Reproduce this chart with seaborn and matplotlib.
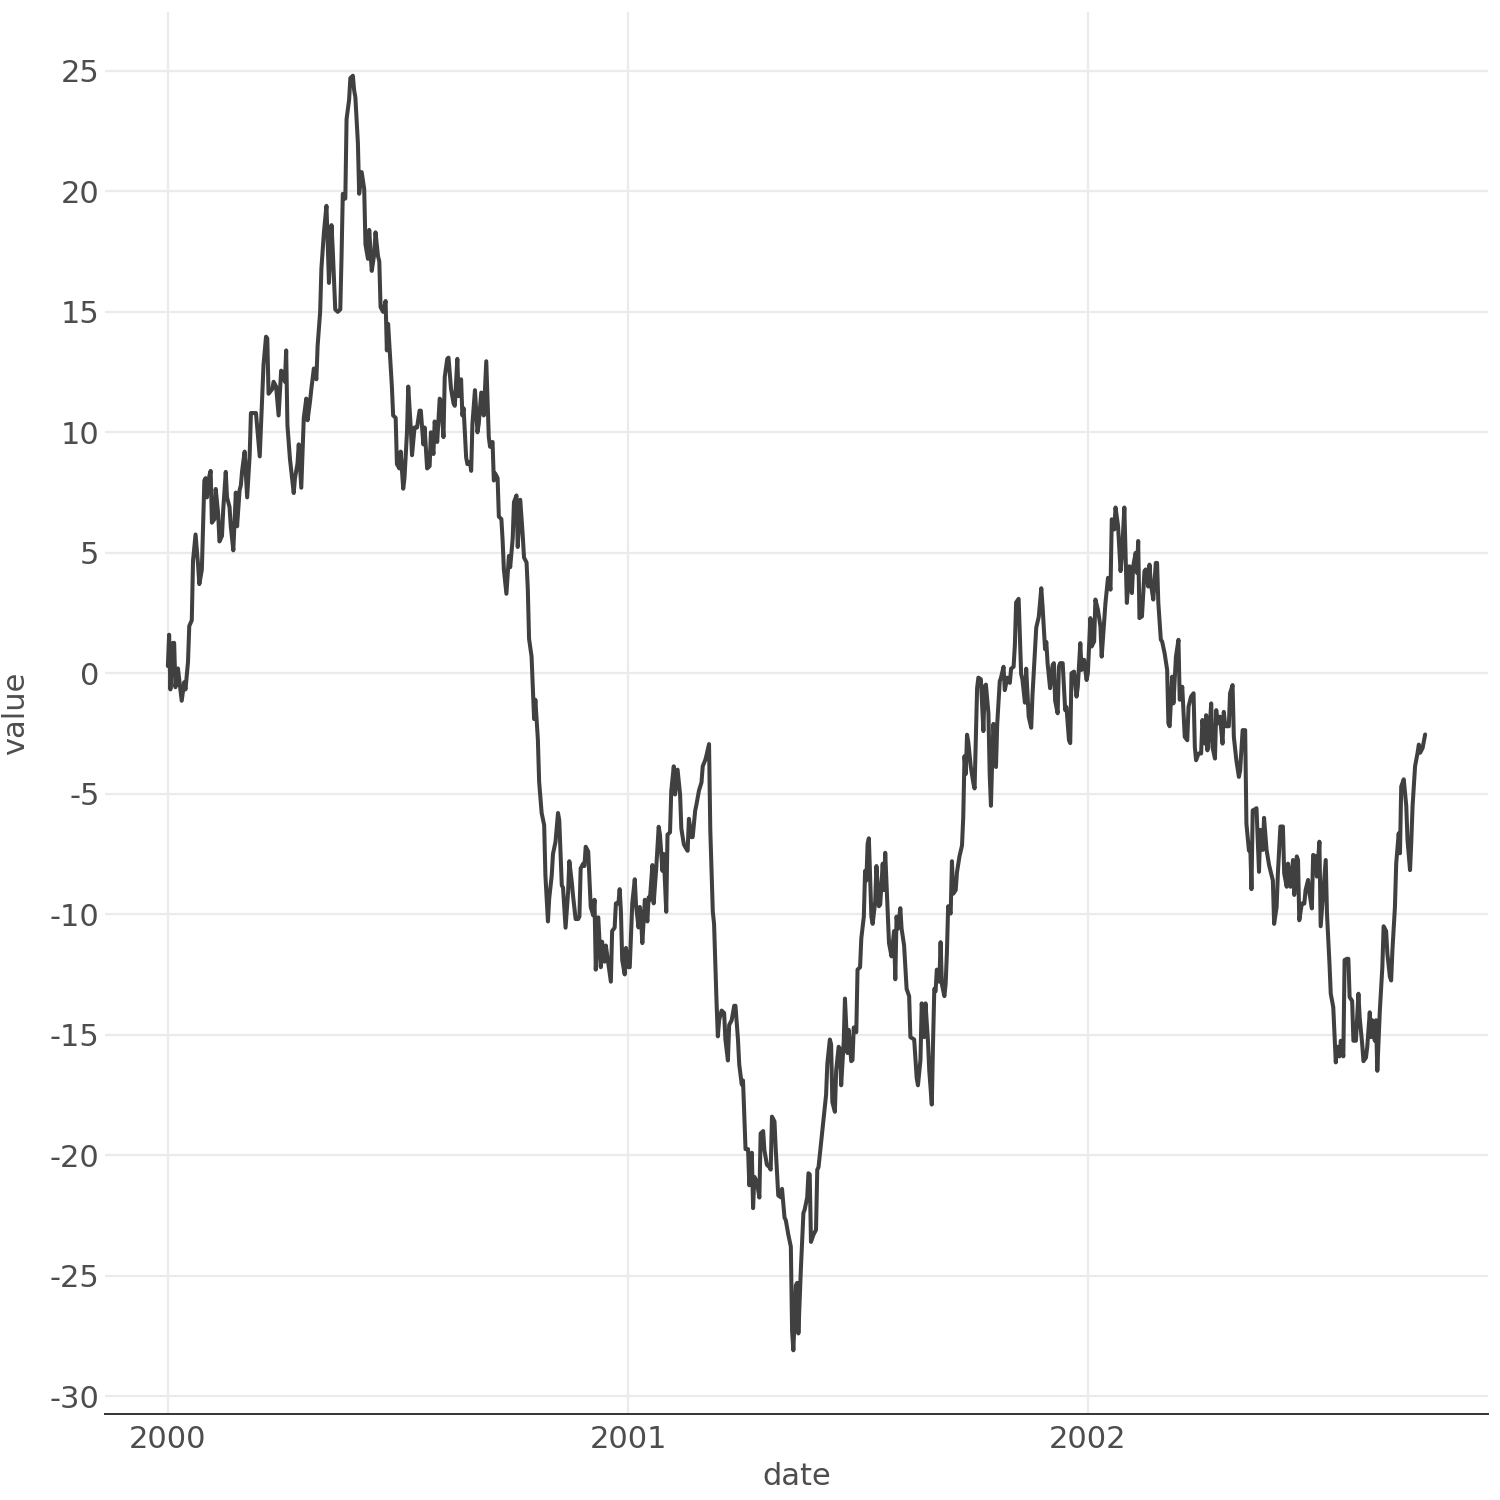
import pandas as pd
import matplotlib
matplotlib.use("Agg")
import matplotlib.pyplot as plt
import matplotlib.dates as mdates
import seaborn as sns

start_date = "2000-01-01"

# day offsets (from start_date) and the value at each one
days_a = [0, 1, 2, 4, 5, 6, 8, 10, 11, 13,
          14, 16, 17, 19, 20, 22, 24, 25, 27, 29,
          30, 31, 33, 34, 35, 37, 38, 40, 41, 43,
          44, 46, 47, 49, 50, 52, 54, 55, 57, 58,
          59, 61, 63, 65, 66, 68, 70, 73, 75, 76,
          78, 79, 80, 83, 84, 86, 88, 90, 91, 93,
          94, 95, 97, 100, 101, 103, 104, 106, 108, 110,
          111, 113, 114, 116, 118, 119, 121, 122, 124, 126,
          127, 128, 130, 131, 133, 135, 137, 138, 139, 141,
          142, 144, 145, 147, 148, 149, 151, 152, 154, 156,
          157, 159, 160, 162, 164, 165, 167, 168, 169, 171,
          173, 174, 175]
vals_a = [0.3, 1.6, -0.67, 1.26, 1.26, -0.58, 0.2, -0.67, -1.14, -0.37,
          -0.67, 0.47, 1.96, 2.2, 4.68, 5.76, 4.5, 3.7, 4.3, 8.0,
          8.1, 7.3, 8.2, 8.4, 6.25, 6.4, 7.65, 6.6, 5.47, 5.7,
          6.8, 8.36, 7.3, 6.9, 6.1, 5.1, 7.5, 6.1, 7.6, 7.8,
          8.4, 9.2, 7.3, 9.05, 10.8, 10.8, 10.8, 9.0, 11.5, 12.8,
          13.97, 13.9, 11.6, 11.8, 12.1, 11.9, 10.7, 12.56, 12.5, 12.1,
          13.4, 10.3, 8.9, 7.48, 8.1, 8.7, 9.5, 7.7, 10.6, 11.4,
          10.5, 11.3, 11.8, 12.65, 12.2, 13.6, 15.0, 16.8, 18.3, 19.4,
          17.9, 16.2, 18.6, 17.6, 15.1, 15.0, 15.1, 17.3, 19.9, 19.7,
          23.0, 23.8, 24.7, 24.8, 24.2, 23.9, 22.0, 19.9, 20.8, 20.1,
          17.8, 17.2, 18.4, 16.7, 17.4, 18.3, 17.3, 17.1, 15.2, 15.0,
          15.45, 13.4, 14.5]

days_b = [178, 179, 181, 182, 184, 185, 187, 188, 190, 191,
          193, 194, 196, 198, 200, 201, 203, 204, 206, 208,
          209, 211, 212, 214, 216, 217, 219, 220, 222, 223,
          225, 227, 228, 230, 231, 233, 234, 235, 237, 238,
          240, 241, 242, 244, 246, 247, 249, 250, 251, 253,
          255, 256, 258, 259, 260, 262, 263, 265, 266, 267,
          269, 271, 272, 274, 275, 277, 278, 280, 282, 283,
          285, 286, 287, 289, 291, 292, 294, 295, 297, 299,
          300, 302, 303, 305, 306, 308, 310, 311, 313, 314,
          316, 318, 319, 321, 322, 324, 326, 327, 328, 330,
          331, 332, 334]
vals_b = [11.9, 10.7, 10.6, 8.68, 8.5, 9.2, 7.66, 8.1, 10.0, 11.9,
          10.2, 9.05, 10.2, 10.2, 10.9, 10.9, 9.5, 10.2, 8.5, 8.6,
          10.0, 9.1, 10.45, 9.6, 11.4, 11.3, 9.8, 12.3, 13.05, 13.1,
          11.8, 11.2, 11.1, 13.05, 11.5, 12.2, 10.7, 11.0, 8.96, 8.68,
          8.77, 8.4, 10.35, 11.75, 10.0, 10.35, 11.65, 11.6, 10.7, 12.95,
          9.8, 9.4, 9.6, 8.0, 8.3, 8.1, 6.5, 6.4, 5.5, 4.3,
          3.3, 4.87, 4.4, 5.6, 7.1, 7.38, 5.24, 7.2, 5.7, 4.8,
          4.6, 3.5, 1.43, 0.69, -1.9, -1.1, -2.75, -4.5, -5.8, -6.3,
          -8.4, -10.3, -9.35, -8.4, -7.5, -7.0, -5.8, -6.1, -8.8, -8.9,
          -10.56, -9.1, -7.8, -8.7, -9.26, -10.2, -10.2, -10.1, -8.1, -7.9,
          -8.0, -7.2, -7.4]

days_c = [336, 338, 339, 340, 342, 344, 345, 347, 348, 350,
          352, 353, 355, 356, 358, 359, 360, 361, 363, 364,
          366, 367, 369, 371, 372, 374, 375, 376, 377, 379,
          381, 382, 383, 385, 386, 388, 390, 391, 393, 394,
          396, 397, 399, 400, 402, 403, 405, 407, 408, 410,
          411, 413, 414, 416, 417, 419, 420, 422, 424, 425,
          427, 428, 430, 431, 433, 434, 436, 437, 438, 440,
          442, 443, 445, 446, 448, 450, 451, 453, 454, 456,
          457, 459, 461, 462, 464, 465, 466, 468, 470, 471,
          473, 474, 476, 478, 479, 480, 482, 483, 485, 487,
          488, 490, 491, 493, 495, 496, 497, 499, 500, 501,
          503, 505, 506, 508, 509, 510, 511, 513, 515, 516,
          517]
vals_c = [-9.7, -10.05, -9.4, -12.3, -10.13, -12.2, -11.14, -11.97, -11.3, -12.06,
          -12.8, -10.7, -10.56, -9.55, -9.55, -8.96, -9.9, -11.9, -12.5, -11.4,
          -12.2, -12.2, -9.55, -8.55, -9.64, -10.55, -9.7, -10.2, -11.2, -9.4,
          -10.3, -9.3, -9.4, -7.96, -9.55, -8.13, -6.37, -6.7, -8.2, -7.5,
          -9.9, -6.7, -6.6, -4.87, -3.86, -5.03, -4.0, -5.03, -6.45, -7.1,
          -7.2, -7.37, -6.04, -6.8, -6.8, -5.7, -5.45, -4.87, -4.53, -3.86,
          -3.6, -3.4, -2.94, -6.5, -9.9, -10.4, -13.7, -15.07, -14.4, -14.0,
          -14.1, -15.2, -16.07, -14.6, -14.4, -13.8, -13.8, -15.2, -16.24, -17.07,
          -16.9, -19.75, -19.75, -21.25, -19.9, -22.2, -20.9, -21.1, -21.76, -19.1,
          -19.0, -19.8, -20.4, -20.5, -20.6, -18.4, -18.6, -19.75, -21.67, -21.75,
          -21.4, -22.6, -22.7, -23.3, -23.8, -27.3, -28.1, -25.4, -25.3, -27.4,
          -24.7, -22.4, -22.26, -21.75, -20.75, -20.8, -23.6, -23.3, -23.1, -20.6,
          -20.5]

days_d = [521, 523, 524, 526, 527, 528, 530, 531, 533, 534,
          535, 537, 538, 540, 541, 543, 544, 545, 547, 548,
          550, 551, 553, 554, 555, 556, 557, 559, 560, 562,
          563, 565, 566, 568, 569, 570, 572, 573, 575, 577,
          578, 579, 580, 582, 583, 585, 587, 589, 590, 593,
          595, 596, 598, 599, 601, 602, 604, 605, 607, 608,
          609, 610, 611, 613, 614, 615, 617, 618, 619, 620,
          622, 623, 624, 626, 627, 629, 631, 632, 633, 634,
          635, 636, 638, 640, 641, 643, 644, 646, 648, 649,
          650, 652, 653, 654, 655, 656, 658, 659, 661, 662,
          664, 665, 667, 669, 670, 672, 673, 674, 676, 678,
          679, 681, 682, 684, 686, 687, 689, 690, 692, 694,
          695, 697, 698, 699, 701, 703, 704, 705, 707]
vals_d = [-18.5, -17.5, -16.2, -15.2, -15.4, -17.8, -18.2, -16.5, -15.5, -15.6,
          -17.1, -15.3, -13.5, -15.76, -14.8, -16.1, -16.05, -14.7, -14.9, -12.3,
          -12.2, -11.0, -10.1, -8.2, -8.6, -7.08, -6.85, -10.1, -10.4, -9.5,
          -8.0, -9.67, -9.6, -7.9, -9.0, -7.45, -9.9, -11.2, -11.75, -10.7,
          -12.7, -10.1, -10.6, -9.75, -10.6, -11.3, -13.1, -13.4, -15.1, -15.2,
          -16.8, -17.1, -16.05, -13.7, -15.1, -13.7, -15.3, -16.5, -17.9, -15.3,
          -13.1, -13.2, -12.3, -12.8, -11.16, -12.9, -13.4, -12.9, -11.6, -9.67,
          -9.97, -7.8, -9.15, -9.0, -8.26, -7.6, -7.15, -5.96, -3.44, -4.18,
          -2.55, -2.85, -3.89, -4.55, -4.78, -0.62, -0.18, -0.25, -2.4, -0.55,
          -0.47, -1.66, -4.18, -5.5, -3.6, -2.1, -3.89, -2.1, -0.33, -0.18,
          0.27, -0.7, -0.18, -0.4, 0.19, 0.27, 1.16, 2.94, 3.09, -0.03,
          -0.25, -1.22, 0.19, -1.8, -2.26, -0.92, 0.93, 1.9, 2.34, 3.53,
          2.79, 1.0, 1.3, 0.42, -0.62, 0.34, 0.42, -1.14, -1.66]

days_e = [708, 709, 711, 713, 714, 716, 717, 718, 720, 722,
          723, 725, 726, 728, 730, 731, 733, 734, 736, 737,
          739, 741, 742, 744, 745, 747, 749, 750, 752, 753,
          755, 757, 758, 760, 761, 762, 764, 766, 767, 769,
          770, 771, 772, 774, 776, 777, 779, 780, 781, 783,
          785, 786, 787, 789, 790, 792, 794, 795, 796, 798,
          799, 801, 803, 804, 805, 806, 808, 810, 811, 813,
          815, 816, 817, 819, 821, 822, 824, 825, 826, 828,
          829, 830, 832, 833, 834, 836, 838, 839, 840, 841,
          843, 844, 846, 847, 849, 851, 852, 854, 856, 857,
          859, 860, 861, 862]
vals_e = [0.28, 0.42, 0.42, -1.53, -1.4, -2.78, -2.9, 0.0, 0.07, -0.97,
          -0.56, 1.25, 0.14, 0.56, -0.28, 0.0, 2.29, 1.11, 1.32, 3.06,
          2.64, 1.94, 0.69, 2.22, 2.92, 3.96, 3.47, 6.39, 5.97, 6.88,
          6.11, 4.24, 4.86, 6.88, 4.86, 2.92, 4.44, 3.33, 4.44, 5.0,
          4.17, 5.49, 2.29, 2.36, 4.24, 4.31, 3.6, 4.51, 3.75, 3.06,
          4.58, 4.58, 2.92, 1.39, 1.32, 0.83, 0.14, -2.08, -2.2, -0.14,
          -1.25, 0.69, 1.39, -1.1, -0.97, -0.56, -2.64, -2.78, -1.39, -0.97,
          -0.83, -3.06, -3.61, -3.33, -3.33, -1.94, -2.92, -1.74, -3.2, -2.08,
          -1.25, -3.06, -3.54, -1.53, -2.08, -1.8, -2.92, -1.6, -2.08, -2.2,
          -2.2, -0.83, -0.49, -2.64, -3.61, -4.3, -4.03, -2.36, -2.36, -6.25,
          -7.36, -7.08, -8.96, -5.69]

days_f = [863, 865, 867, 868, 870, 871, 873, 875, 876, 878,
          879, 881, 882, 884, 886, 887, 889, 890, 892, 894,
          895, 897, 898, 899, 901, 903, 904, 906, 907, 909,
          910, 912, 913, 915, 916, 918, 920, 921, 923, 924,
          926, 928, 929, 931, 932, 934, 935, 937, 938, 939,
          941, 942, 944, 946, 947, 949, 950, 952, 953, 955,
          956, 957, 959, 960, 961, 963, 965, 966, 968, 969,
          971, 972, 973, 975, 976, 978, 979, 980, 982, 984,
          985, 987, 988, 989, 991, 993, 994, 995, 997, 999]
vals_f = [-5.67, -5.6, -8.24, -6.5, -7.33, -6.0, -7.33, -7.96, -8.17, -8.6,
          -10.4, -9.7, -8.3, -6.36, -6.36, -8.3, -8.86, -7.9, -8.86, -7.75,
          -9.2, -7.6, -7.75, -10.25, -9.56, -9.56, -9.0, -8.58, -9.1, -9.76,
          -7.54, -7.6, -8.44, -6.99, -10.5, -9.1, -7.75, -9.97, -12.06, -13.3,
          -13.86, -16.15, -15.5, -15.9, -15.25, -15.9, -11.9, -11.85, -11.85, -13.44,
          -13.6, -15.25, -15.25, -13.3, -14.3, -15.4, -16.1, -15.95, -15.5, -14.07,
          -15.1, -14.4, -15.25, -14.4, -16.5, -14.0, -12.2, -10.5, -10.7, -11.64,
          -12.6, -12.75, -11.5, -9.7, -7.9, -6.64, -7.47, -4.7, -4.4, -5.5,
          -6.92, -8.17, -6.99, -5.53, -3.86, -3.3, -2.96, -3.3, -3.1, -2.54]

y_ticks = [-30, -25, -20, -15, -10, -5, 0, 5, 10, 15, 20, 25]

days = days_a + days_b + days_c + days_d + days_e + days_f
values = vals_a + vals_b + vals_c + vals_d + vals_e + vals_f
assert len(days) == len(values)

df = pd.DataFrame({
    "date": pd.to_datetime(start_date) + pd.to_timedelta(days, unit="D"),
    "value": values,
})

sns.set_theme(style="whitegrid")
plt.rcParams["font.family"] = ["DejaVu Sans"]
plt.rcParams["axes.unicode_minus"] = False

text_grey = "#4d4d4d"
axis_dark = "#333333"

fig, ax = plt.subplots(figsize=(15, 15), dpi=100)
fig.subplots_adjust(left=0.07, right=0.992, top=0.992, bottom=0.0573)

sns.lineplot(data=df, x="date", y="value", color="#404040", linewidth=2.9, ax=ax)

ax.xaxis.set_major_locator(mdates.YearLocator())
ax.xaxis.set_major_formatter(mdates.DateFormatter("%Y"))
ax.set_yticks(y_ticks)
ax.set_yticklabels([str(t) for t in y_ticks])

ax.grid(True, color="#ebebeb", linewidth=1.6)
for side in ["left", "top", "right"]:
    ax.spines[side].set_visible(False)
ax.spines["bottom"].set_color(axis_dark)
ax.spines["bottom"].set_linewidth(1.4)

ax.tick_params(axis="both", labelsize=22, labelcolor=text_grey)
ax.tick_params(axis="y", length=0, pad=4)
ax.tick_params(axis="x", length=3, width=1.4, color=axis_dark, pad=5)
ax.set_xlabel("date", fontsize=22, color=text_grey, labelpad=6)
ax.set_ylabel("value", fontsize=22, color=text_grey, labelpad=14)

fig.savefig("out.png", dpi=100, facecolor="white")
